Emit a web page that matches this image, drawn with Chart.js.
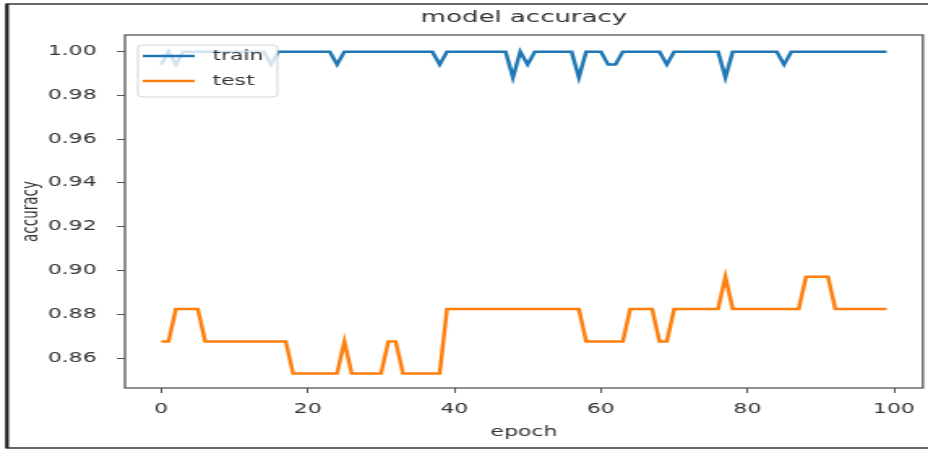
<!DOCTYPE html>
<html lang="en">

<head>
    <meta charset="UTF-8">
    <meta name="viewport" content="width=device-width, initial-scale=1.0">
    <script src="https://cdn.jsdelivr.net/npm/chart.js@4.4.1/dist/chart.umd.min.js"></script>
    <title>model accuracy</title>
    <style>
        body { margin: 0; background: #fff; }
    </style>
</head>

<body>
    <!-- the reference is a screenshot stretched sideways, so the canvas is drawn narrow and widened -->
    <canvas id="myChart" width="572" height="450" style="width: 928px; height: 450px; display: block;"></canvas>

    <script>
        const epochs = Array.from({ length: 100 }, (_, i) => i)

        const trainAcc = [
            0.9941, 1.0, 0.9941, 1.0, 1.0, 1.0, 1.0, 1.0, 1.0, 1.0,
            1.0, 1.0, 1.0, 1.0, 1.0, 0.9941, 1.0, 1.0, 1.0, 1.0,
            1.0, 1.0, 1.0, 1.0, 0.9941, 1.0, 1.0, 1.0, 1.0, 1.0,
            1.0, 1.0, 1.0, 1.0, 1.0, 1.0, 1.0, 1.0, 0.9941, 1.0,
            1.0, 1.0, 1.0, 1.0, 1.0, 1.0, 1.0, 1.0, 0.9882, 1.0,
            0.9941, 1.0, 1.0, 1.0, 1.0, 1.0, 1.0, 0.9882, 1.0, 1.0,
            1.0, 0.9941, 0.9941, 1.0, 1.0, 1.0, 1.0, 1.0, 1.0, 0.9941,
            1.0, 1.0, 1.0, 1.0, 1.0, 1.0, 1.0, 0.9882, 1.0, 1.0,
            1.0, 1.0, 1.0, 1.0, 1.0, 0.9941, 1.0, 1.0, 1.0, 1.0,
            1.0, 1.0, 1.0, 1.0, 1.0, 1.0, 1.0, 1.0, 1.0, 1.0
        ]

        const testAcc = [
            0.8676, 0.8676, 0.8824, 0.8824, 0.8824, 0.8824, 0.8676, 0.8676, 0.8676, 0.8676,
            0.8676, 0.8676, 0.8676, 0.8676, 0.8676, 0.8676, 0.8676, 0.8676, 0.8529, 0.8529,
            0.8529, 0.8529, 0.8529, 0.8529, 0.8529, 0.8676, 0.8529, 0.8529, 0.8529, 0.8529,
            0.8529, 0.8676, 0.8676, 0.8529, 0.8529, 0.8529, 0.8529, 0.8529, 0.8529, 0.8824,
            0.8824, 0.8824, 0.8824, 0.8824, 0.8824, 0.8824, 0.8824, 0.8824, 0.8824, 0.8824,
            0.8824, 0.8824, 0.8824, 0.8824, 0.8824, 0.8824, 0.8824, 0.8824, 0.8676, 0.8676,
            0.8676, 0.8676, 0.8676, 0.8676, 0.8824, 0.8824, 0.8824, 0.8824, 0.8676, 0.8676,
            0.8824, 0.8824, 0.8824, 0.8824, 0.8824, 0.8824, 0.8824, 0.8971, 0.8824, 0.8824,
            0.8824, 0.8824, 0.8824, 0.8824, 0.8824, 0.8824, 0.8824, 0.8824, 0.8971, 0.8971,
            0.8971, 0.8971, 0.8824, 0.8824, 0.8824, 0.8824, 0.8824, 0.8824, 0.8824, 0.8824
        ]

        const xTicks = [0, 20, 40, 60, 80, 100]
        const yTicks = [0.86, 0.88, 0.90, 0.92, 0.94, 0.96, 0.98, 1.00]

        const font = 'DejaVu Sans'
        const textColor = '#333'
        const frameColor = '#555'

        // white page, outer screenshot border and the box round the plot
        const framePlugin = {
            id: 'frame',
            beforeDraw: (chart) => {
                const ctx = chart.ctx
                ctx.save()
                ctx.fillStyle = '#fff'
                ctx.fillRect(0, 0, chart.width, chart.height)
                ctx.strokeStyle = '#666'
                ctx.lineWidth = 2
                ctx.beginPath()
                ctx.moveTo(chart.width + 2, 4)
                ctx.lineTo(4.3, 4)
                ctx.lineTo(4.3, 448)
                ctx.lineTo(chart.width + 2, 448)
                ctx.stroke()
                ctx.strokeStyle = '#222'
                ctx.beginPath()
                ctx.moveTo(4.3, 4)
                ctx.lineTo(4.3, 448)
                ctx.stroke()
                ctx.restore()
            },
            afterDatasetsDraw: (chart) => {
                const { ctx, chartArea: a } = chart
                ctx.save()
                ctx.strokeStyle = frameColor
                ctx.lineWidth = 1.3
                ctx.strokeRect(a.left, a.top, a.right - a.left, a.bottom - a.top)
                ctx.restore()
            }
        }

        // matplotlib style legend sitting over the lines in the upper left corner
        const legendPlugin = {
            id: 'boxLegend',
            afterDatasetsDraw: (chart) => {
                const { ctx, chartArea: a } = chart
                const x = a.left + 8, y = a.top + 10, w = 86, h = 52
                ctx.save()
                ctx.fillStyle = 'rgba(255,255,255,0.8)'
                ctx.strokeStyle = 'rgba(204,204,204,0.8)'
                ctx.lineWidth = 1
                ctx.beginPath()
                ctx.roundRect(x, y, w, h, 3)
                ctx.fill()
                ctx.stroke()
                ctx.font = `13.5px ${font}`
                ctx.textBaseline = 'middle'
                chart.data.datasets.forEach((ds, i) => {
                    const ly = y + 11 + i * 25
                    ctx.strokeStyle = ds.borderColor
                    ctx.lineWidth = 2.5
                    ctx.beginPath()
                    ctx.moveTo(x + 3, ly)
                    ctx.lineTo(x + 35, ly)
                    ctx.stroke()
                    ctx.fillStyle = textColor
                    ctx.fillText(ds.label, x + 46, ly)
                })
                ctx.restore()
            }
        }

        const ctx = document.getElementById('myChart').getContext('2d')

        const myChart = new Chart(ctx, {
            type: 'line',
            data: {
                datasets: [{
                    label: 'train',
                    data: epochs.map((e, i) => ({ x: e, y: trainAcc[i] })),
                    borderColor: '#1f77b4',
                    borderWidth: 2.5,
                    pointRadius: 0,
                    tension: 0,
                    fill: false
                }, {
                    label: 'test',
                    data: epochs.map((e, i) => ({ x: e, y: testAcc[i] })),
                    borderColor: '#ff7f0e',
                    borderWidth: 2.5,
                    pointRadius: 0,
                    tension: 0,
                    fill: false
                }]
            },
            options: {
                responsive: false,
                animation: false,
                events: [],
                layout: { padding: { left: 0, right: 2, top: 0, bottom: 0 } },
                plugins: {
                    legend: { display: false },
                    tooltip: { enabled: false },
                    title: {
                        display: true,
                        text: 'model accuracy',
                        fullSize: false,
                        color: textColor,
                        font: { family: font, size: 16, weight: 'normal' },
                        padding: { top: 8, bottom: 7.8 }
                    }
                },
                scales: {
                    x: {
                        type: 'linear',
                        min: -4.95,
                        max: 103.95,
                        bounds: 'data',
                        afterBuildTicks: (scale) => { scale.ticks = xTicks.map(v => ({ value: v })) },
                        afterFit: (scale) => { scale.height = 62 },
                        grid: { drawOnChartArea: false, drawTicks: true, tickLength: 5, tickColor: frameColor },
                        border: { display: false },
                        ticks: {
                            color: textColor,
                            font: { family: font, size: 13.5 },
                            padding: 8,
                            autoSkip: false,
                            maxRotation: 0
                        },
                        title: {
                            display: true,
                            text: 'epoch',
                            color: textColor,
                            font: { family: font, size: 13.5 },
                            padding: { top: 4, bottom: 9 }
                        }
                    },
                    y: {
                        min: 0.8463,
                        max: 1.0076,
                        bounds: 'data',
                        afterBuildTicks: (scale) => { scale.ticks = yTicks.map(v => ({ value: v })) },
                        afterFit: (scale) => { scale.width = 77 },
                        grid: { drawOnChartArea: false, drawTicks: true, tickLength: 5, tickColor: frameColor },
                        border: { display: false },
                        ticks: {
                            color: textColor,
                            font: { family: font, size: 13.5 },
                            padding: 12.5,
                            autoSkip: false,
                            callback: (v) => v.toFixed(2)
                        },
                        title: {
                            display: true,
                            text: 'accuracy',
                            color: textColor,
                            font: { family: font, size: 13.5 },
                            padding: { top: 11, bottom: 4 }
                        }
                    }
                }
            },
            plugins: [framePlugin, legendPlugin]
        })
    </script>
</body>

</html>
